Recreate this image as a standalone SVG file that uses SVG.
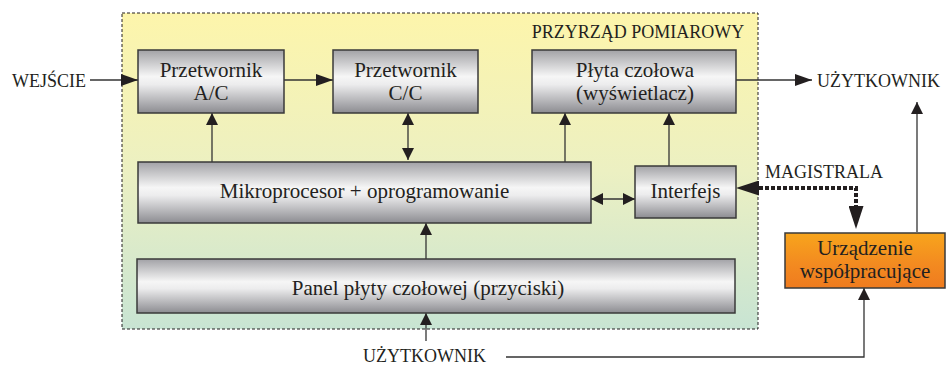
<svg xmlns="http://www.w3.org/2000/svg" width="947" height="366" viewBox="0 0 947 366">
<defs>
<linearGradient id="gFrame" x1="0" y1="0" x2="0" y2="1">
<stop offset="0" stop-color="#fdf5ab"/>
<stop offset="0.5" stop-color="#ecf0c2"/>
<stop offset="1" stop-color="#c8e4d3"/>
</linearGradient>
<linearGradient id="gBox" x1="0" y1="0" x2="0" y2="1">
<stop offset="0" stop-color="#a2a2a6"/>
<stop offset="0.42" stop-color="#f6f6f6"/>
<stop offset="0.55" stop-color="#ececed"/>
<stop offset="1" stop-color="#8c8c91"/>
</linearGradient>
<linearGradient id="gOrange" x1="0" y1="0" x2="0" y2="1">
<stop offset="0" stop-color="#f8a51c"/>
<stop offset="0.55" stop-color="#f38b20"/>
<stop offset="1" stop-color="#ef7b1f"/>
</linearGradient>
<marker id="ah" markerWidth="17" markerHeight="12" refX="17" refY="6" orient="auto-start-reverse" markerUnits="userSpaceOnUse">
<path d="M0,0 L17,6 L0,12 z" fill="#231f20"/>
</marker>
<marker id="av" markerWidth="12" markerHeight="12" refX="12" refY="6" orient="auto-start-reverse" markerUnits="userSpaceOnUse">
<path d="M0,0 L12,6 L0,12 z" fill="#231f20"/>
</marker>
<marker id="abig" markerWidth="23" markerHeight="15" refX="0" refY="7.5" orient="auto-start-reverse" markerUnits="userSpaceOnUse">
<path d="M0,0 L23,7.5 L0,15 z" fill="#231f20"/>
</marker>
</defs>
<style>
.box{fill:url(#gBox);stroke:#3a3a3a;stroke-width:1.5}
.obox{fill:url(#gOrange);stroke:#3a3a3a;stroke-width:1.5}
.frame{fill:url(#gFrame);stroke:#231f20;stroke-width:1;stroke-dasharray:3 2}
text{font-family:"Liberation Serif","Times New Roman",serif;fill:#231f20}
.lbl{font-size:21px;text-anchor:middle}
.cap{font-size:18px}
.ln{fill:none;stroke:#333;stroke-width:1.3}
.dot{fill:none;stroke:#231f20;stroke-width:4;stroke-dasharray:4 2}
</style>

<g id="frame">
<rect class="frame" x="122" y="13" width="636" height="316"/>
<text class="cap" x="638" y="38" text-anchor="middle">PRZYRZĄD POMIAROWY</text>
</g>

<g id="connectors">
<line class="ln" x1="90" y1="80" x2="138" y2="80" marker-end="url(#ah)"/>
<line class="ln" x1="284" y1="80" x2="333" y2="80" marker-end="url(#ah)"/>
<line class="ln" x1="736" y1="80" x2="812" y2="80" marker-end="url(#ah)"/>
<line class="ln" x1="212" y1="162" x2="212" y2="113" marker-end="url(#av)"/>
<line class="ln" x1="408" y1="113" x2="408" y2="160" marker-start="url(#av)" marker-end="url(#av)"/>
<line class="ln" x1="565" y1="162" x2="565" y2="113" marker-end="url(#av)"/>
<line class="ln" x1="669" y1="166" x2="669" y2="113" marker-end="url(#av)"/>
<line class="ln" x1="591" y1="199" x2="635" y2="199" marker-start="url(#av)" marker-end="url(#av)"/>
<line class="ln" x1="426" y1="259" x2="426" y2="223" marker-end="url(#av)"/>
<line class="ln" x1="426" y1="341" x2="426" y2="313" marker-end="url(#av)"/>
<polyline class="ln" points="506,357 864,357 864,288" marker-end="url(#av)"/>
<line class="ln" x1="917" y1="232" x2="917" y2="102" marker-end="url(#av)"/>
<polyline class="dot" points="759,188 856,188 856,206" marker-start="url(#abig)" marker-end="url(#abig)"/>
</g>

<g id="wejscie">
<text class="cap" x="12" y="87">WEJŚCIE</text>
</g>
<g id="uzytkownik-out">
<text class="cap" x="817" y="87">UŻYTKOWNIK</text>
</g>
<g id="uzytkownik-in">
<text class="cap" x="363" y="362">UŻYTKOWNIK</text>
</g>
<g id="magistrala">
<text class="cap" x="765" y="178">MAGISTRALA</text>
</g>

<g id="przetwornik-ac">
<rect class="box" x="138" y="50" width="146" height="63"/>
<text class="lbl" x="211" y="77">Przetwornik</text>
<text class="lbl" x="211" y="100">A/C</text>
</g>
<g id="przetwornik-cc">
<rect class="box" x="333" y="50" width="145" height="63"/>
<text class="lbl" x="405.5" y="77">Przetwornik</text>
<text class="lbl" x="405.5" y="100">C/C</text>
</g>
<g id="plyta">
<rect class="box" x="532" y="50" width="204" height="63"/>
<text class="lbl" x="635" y="77">Płyta czołowa</text>
<text class="lbl" x="635" y="100">(wyświetlacz)</text>
</g>
<g id="mikroprocesor">
<rect class="box" x="138" y="162" width="453" height="61"/>
<text class="lbl" x="364.5" y="198">Mikroprocesor + oprogramowanie</text>
</g>
<g id="interfejs">
<rect class="box" x="635" y="166" width="101" height="52"/>
<text class="lbl" x="685.5" y="198">Interfejs</text>
</g>
<g id="panel">
<rect class="box" x="137" y="259" width="598" height="54"/>
<text class="lbl" x="428" y="295">Panel płyty czołowej (przyciski)</text>
</g>
<g id="urzadzenie">
<rect class="obox" x="785" y="233" width="160" height="55"/>
<text class="lbl" x="865" y="255">Urządzenie</text>
<text class="lbl" x="865" y="278">współpracujące</text>
</g>
</svg>
